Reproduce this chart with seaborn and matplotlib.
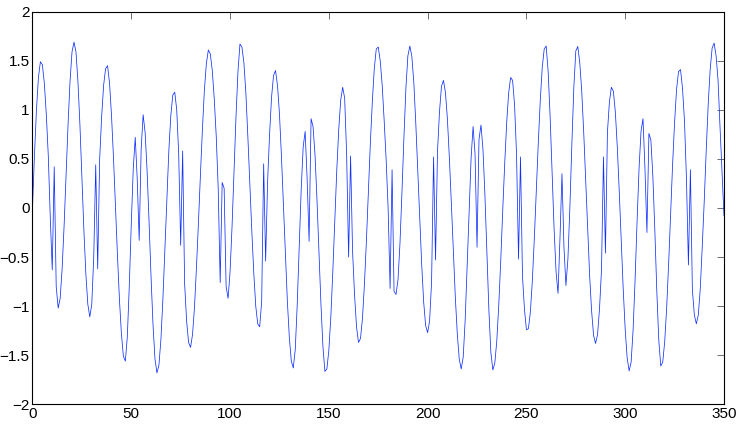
import numpy as np
import pandas as pd
import matplotlib
matplotlib.use("Agg")
import matplotlib.pyplot as plt
import seaborn as sns

# signal values, one per sample (x = 0 .. 350)
y_000_099 = [
    0.00, 0.54, 1.00, 1.33, 1.49, 1.46, 1.27, 0.95, 0.53, -0.10,
    -0.63, 0.42, -0.80, -1.02, -0.92, -0.62, -0.18, 0.34, 0.85, 1.29,
    1.59, 1.69, 1.59, 1.29, 0.85, 0.32, -0.22, -0.67, -0.98, -1.11,
    -0.98, -0.50, 0.44, -0.62, 0.50, 0.93, 1.25, 1.42, 1.45, 1.27,
    0.94, 0.51, 0.02, -0.48, -0.93, -1.28, -1.51, -1.56, -1.31, -0.79,
    -0.16, 0.40, 0.72, 0.30, -0.33, 0.60, 0.95, 0.77, 0.38, -0.14,
    -0.70, -1.19, -1.54, -1.68, -1.60, -1.34, -0.93, -0.43, 0.09, 0.58,
    0.94, 1.15, 1.18, 1.00, 0.55, -0.38, 0.58, -0.77, -1.15, -1.37,
    -1.42, -1.29, -1.01, -0.60, -0.15, 0.34, 0.80, 1.20, 1.47, 1.61,
    1.57, 1.40, 1.11, 0.73, 0.20, -0.76, 0.26, 0.20, -0.80, -0.92,
]
y_100_199 = [
    -0.65, -0.19, 0.37, 0.93, 1.39, 1.67, 1.64, 1.48, 1.17, 0.73,
    0.25, -0.23, -0.66, -1.00, -1.18, -1.21, -0.95, 0.45, -0.54, 0.27,
    0.75, 1.13, 1.35, 1.40, 1.25, 0.96, 0.53, 0.04, -0.47, -0.95,
    -1.32, -1.56, -1.63, -1.44, -0.98, -0.39, 0.19, 0.62, 0.78, 0.30,
    -0.34, 0.91, 0.83, 0.54, 0.08, -0.46, -0.98, -1.41, -1.665, -1.64,
    -1.45, -1.11, -0.65, -0.13, 0.38, 0.80, 1.10, 1.23, 1.12, 0.55,
    -0.50, 0.53, -0.44, -0.88, -1.21, -1.37, -1.33, -1.13, -0.78, -0.34,
    0.16, 0.66, 1.08, 1.42, 1.62, 1.64, 1.50, 1.25, 0.89, 0.49,
    0.00, -0.82, 0.39, -0.85, -0.88, -0.73, -0.36, 0.16, 0.72, 1.22,
    1.55, 1.65, 1.545, 1.28, 0.865, 0.39, -0.11, -0.58, -0.96, -1.20,
]
y_200_299 = [
    -1.27, -1.15, -0.75, 0.52, -0.53, 0.58, 0.98, 1.24, 1.30, 1.18,
    0.91, 0.51, 0.05, -0.44, -0.905, -1.28, -1.54, -1.64, -1.52, -1.14,
    -0.58, 0.01, 0.51, 0.83, 0.55, -0.40, 0.70, 0.845, 0.60, 0.13,
    -0.47, -1.04, -1.47, -1.65, -1.58, -1.355, -0.99, -0.54, -0.03, 0.45,
    0.865, 1.17, 1.33, 1.30, 1.05, 0.55, -0.52, 0.52, -0.69, -1.03,
    -1.24, -1.23, -1.06, -0.74, -0.31, 0.18, 0.66, 1.09, 1.43, 1.62,
    1.65, 1.39, 0.93, 0.35, -0.21, -0.65, -0.87, -0.30, 0.35, -0.40,
    -0.79, -0.52, 0.01, 0.65, 1.23, 1.60, 1.645, 1.48, 1.19, 0.77,
    0.28, -0.22, -0.69, -1.05, -1.30, -1.38, -1.29, -1.025, -0.63, 0.52,
    -0.46, 0.77, 1.08, 1.23, 1.19, 0.98, 0.62, 0.16, -0.34, -0.83,
]
y_300_350 = [
    -1.24, -1.53, -1.66, -1.57, -1.24, -0.73, -0.14, 0.40, 0.78, 0.91,
    0.40, -0.25, 0.76, 0.69, 0.32, -0.23, -0.85, -1.35, -1.61, -1.57,
    -1.36, -1.01, -0.56, -0.05, 0.45, 0.875, 1.21, 1.39, 1.41, 1.22,
    0.89, 0.30, -0.58, 0.39, -0.835, -1.09, -1.18, -1.09, -0.82, -0.39,
    0.07, 0.585, 1.05, 1.41, 1.63, 1.68, 1.55, 1.30, 0.82, 0.38,
    -0.08,
]

xticks = [0, 50, 100, 150, 200, 250, 300, 350]
yticks = [-2, -1.5, -1, -0.5, 0, 0.5, 1, 1.5, 2]
ytick_labels = ["\u22122", "\u22121.5", "\u22121", "\u22120.5", "0", "0.5", "1", "1.5", "2"]

signal = y_000_099 + y_100_199 + y_200_299 + y_300_350
df = pd.DataFrame({"n": np.arange(len(signal)), "y": signal})

sns.set_style("white")
plt.rcParams["font.family"] = ["Liberation Sans", "DejaVu Sans"]

fig = plt.figure(figsize=(7.47, 4.36), dpi=100)
ax = fig.add_axes([0.0435, 0.0727, 0.9257, 0.9005])

sns.lineplot(data=df, x="n", y="y", ax=ax, color="#1030ff", linewidth=0.55)

ax.set_xlim(0, 350)
ax.set_ylim(-2, 2)
ax.set_xticks(xticks)
ax.set_xticklabels([str(v) for v in xticks])
ax.set_yticks(yticks)
ax.set_yticklabels(ytick_labels)
ax.set_xlabel("")
ax.set_ylabel("")

ax.tick_params(direction="in", top=True, right=True, length=5, width=0.6,
               color="#555555", labelsize=11, labelcolor="black", pad=2)
for side in ["left", "right", "top", "bottom"]:
    ax.spines[side].set_visible(True)
    ax.spines[side].set_color("black")
    ax.spines[side].set_linewidth(0.8)

fig.savefig("out.png", dpi=100)
